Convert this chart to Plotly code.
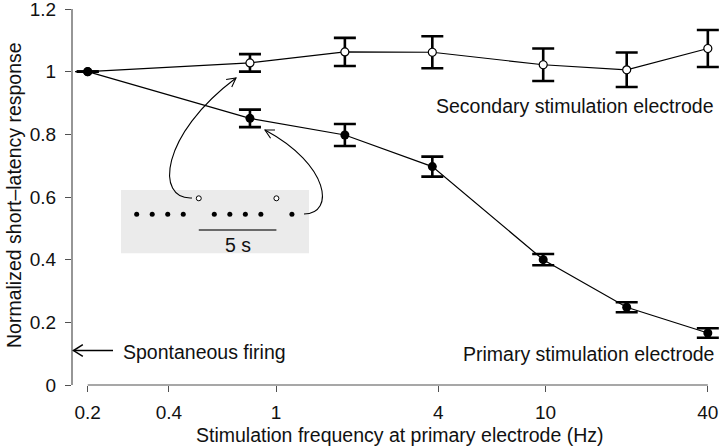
import math
import plotly.graph_objects as go

# ---------------- data ----------------
freq_hz = [0.2, 0.8, 1.8, 3.8, 9.8, 20, 40]
secondary_resp = [1.0, 1.028, 1.063, 1.062, 1.022, 1.006, 1.074]
secondary_err = [0.0, 0.028, 0.045, 0.051, 0.052, 0.055, 0.059]
primary_resp = [1.0, 0.851, 0.798, 0.697, 0.400, 0.248, 0.166]
primary_err = [0.0, 0.028, 0.035, 0.032, 0.018, 0.016, 0.015]
x_tick_vals = [0.2, 0.4, 1, 4, 10, 40]
x_tick_text = ["0.2", "0.4", "1", "4", "10", "40"]
y_tick_vals = [0, 0.2, 0.4, 0.6, 0.8, 1.0, 1.2]
y_tick_text = ["0", "0.2", "0.4", "0.6", "0.8", "1", "1.2"]
spontaneous_level = 0.11

# inset pulse train (seconds)
inset_primary_t = [0, 1, 2, 3, 5, 6, 7, 8, 10]
inset_secondary_t = [4, 9]
scale_bar_t = [4, 9]
scale_bar_label = "5 s"

# ---------------- geometry (pixel space) ----------------
W, H = 720, 447
L, R, T, B = 72, 720, 9, 385  # plot area in pixels
px_per_dec = 269.5
x0_px = 87.7  # pixel of 0.2
xr0 = math.log10(0.2) - (x0_px - L) / px_per_dec
xr1 = math.log10(0.2) + (R - x0_px) / px_per_dec


def px(x):
    return (x - L) / (R - L)


def py(y):
    return (B - y) / (B - T)


def xlog_paper(v):
    return (math.log10(v) - xr0) / (xr1 - xr0)


def yval_px(v):
    return B - v * (B - T) / 1.2


FONT = "Liberation Sans, Arial, Helvetica, sans-serif"
FS = 19.5
TFS = 19
AX = "#505050"

fig = go.Figure()

fig.add_trace(go.Scatter(
    x=freq_hz, y=secondary_resp, mode="lines+markers",
    line=dict(color="black", width=1.2),
    marker=dict(symbol="circle", size=8, color="white", line=dict(color="black", width=1.2)),
    error_y=dict(type="data", array=secondary_err, visible=True, color="black", thickness=2.6, width=11),
    cliponaxis=False, showlegend=False, xaxis="x", yaxis="y",
))
fig.add_trace(go.Scatter(
    x=freq_hz, y=primary_resp, mode="lines+markers",
    line=dict(color="black", width=1.2),
    marker=dict(symbol="circle", size=9, color="black"),
    error_y=dict(type="data", array=primary_err, visible=True, color="black", thickness=2.6, width=11),
    cliponaxis=False, showlegend=False, xaxis="x", yaxis="y",
))

# inset traces
inset_row_open, inset_row_filled, inset_row_bar = 8.3, 24.3, 40.0
fig.add_trace(go.Scatter(
    x=inset_primary_t, y=[inset_row_filled] * len(inset_primary_t), mode="markers",
    marker=dict(size=5, color="black"), xaxis="x2", yaxis="y2", showlegend=False, cliponaxis=False,
))
fig.add_trace(go.Scatter(
    x=inset_secondary_t, y=[inset_row_open] * len(inset_secondary_t), mode="markers",
    marker=dict(size=5, color="white", line=dict(color="black", width=1)),
    xaxis="x2", yaxis="y2", showlegend=False, cliponaxis=False,
))
fig.add_trace(go.Scatter(
    x=scale_bar_t, y=[inset_row_bar] * 2, mode="lines",
    line=dict(color="#6a6a6a", width=2), xaxis="x2", yaxis="y2", showlegend=False, cliponaxis=False,
))

shapes = []
# inset background
shapes.append(dict(type="rect", xref="paper", yref="paper", x0=px(121), x1=px(309), y0=py(253.3), y1=py(190),
                   fillcolor="#ebebeb", line=dict(width=0), layer="below"))
# axis lines
shapes.append(dict(type="line", xref="paper", yref="paper", x0=0, x1=0, y0=0, y1=1,
                   line=dict(color=AX, width=1.2)))
shapes.append(dict(type="line", xref="paper", yref="paper",
                   x0=xlog_paper(x_tick_vals[0]), x1=xlog_paper(x_tick_vals[-1]), y0=0, y1=0,
                   line=dict(color=AX, width=1.2)))
# short baseline at y=1 near the start
shapes.append(dict(type="line", xref="paper", yref="paper",
                   x0=px(75), x1=xlog_paper(freq_hz[0]), y0=py(yval_px(1.0)), y1=py(yval_px(1.0)),
                   line=dict(color="black", width=1.2)))


def vhead(tip, frm, length=9, ang=28):
    dx, dy = tip[0] - frm[0], tip[1] - frm[1]
    n = math.hypot(dx, dy)
    ux, uy = dx / n, dy / n
    pts = []
    for s in (1, -1):
        a = math.radians(ang * s)
        rx = ux * math.cos(a) - uy * math.sin(a)
        ry = ux * math.sin(a) + uy * math.cos(a)
        pts.append((tip[0] - rx * length, tip[1] - ry * length))
    return "M{},{} L{},{} L{},{}".format(px(pts[0][0]), py(pts[0][1]), px(tip[0]), py(tip[1]),
                                          px(pts[1][0]), py(pts[1][1]))


def cubic(p0, p1, p2, p3):
    return "M{},{} C{},{} {},{} {},{}".format(px(p0[0]), py(p0[1]), px(p1[0]), py(p1[1]),
                                              px(p2[0]), py(p2[1]), px(p3[0]), py(p3[1]))


line_style = dict(color="black", width=1.1)
# curved arrow to secondary point
a1 = [(192, 198), (155, 200), (160, 135), (236, 78)]
shapes.append(dict(type="path", xref="paper", yref="paper", path=cubic(*a1), line=line_style))
shapes.append(dict(type="path", xref="paper", yref="paper", path=vhead(a1[3], a1[2], 10), line=line_style))
# curved arrow to primary point
a2 = [(304, 214), (335, 214), (330, 165), (265, 130)]
shapes.append(dict(type="path", xref="paper", yref="paper", path=cubic(*a2), line=line_style))
shapes.append(dict(type="path", xref="paper", yref="paper", path=vhead(a2[3], a2[2], 10), line=line_style))
# spontaneous arrow
sp_y = yval_px(spontaneous_level)
shapes.append(dict(type="line", xref="paper", yref="paper", x0=px(113), x1=px(73.5),
                   y0=py(sp_y), y1=py(sp_y), line=dict(color="black", width=1.5)))
shapes.append(dict(type="path", xref="paper", yref="paper", path=vhead((73.5, sp_y), (113, sp_y), 11, 32),
                   line=dict(color="black", width=1.5)))

annotations = [
    dict(text="Secondary stimulation electrode", xref="paper", yref="paper", x=px(716), y=py(106),
         xanchor="right", yanchor="middle", showarrow=False),
    dict(text="Primary stimulation electrode", xref="paper", yref="paper", x=px(716), y=py(354),
         xanchor="right", yanchor="middle", showarrow=False),
    dict(text="Spontaneous firing", xref="paper", yref="paper", x=px(121), y=py(sp_y + 1),
         xanchor="left", yanchor="middle", showarrow=False),
    dict(text=scale_bar_label, xref="paper", yref="paper", x=px(238), y=py(245),
         xanchor="center", yanchor="middle", showarrow=False),
    dict(text="Stimulation frequency at primary electrode (Hz)", xref="paper", yref="paper",
         x=px(400), y=py(435), xanchor="center", yanchor="middle", showarrow=False),
    dict(text="Normalized short–latency response", xref="paper", yref="paper",
         x=px(14), y=py(195), xanchor="center", yanchor="middle", textangle=-90, showarrow=False,
         borderpad=0),
]

fig.update_layout(
    width=W, height=H,
    margin=dict(l=L, r=W - R, t=T, b=H - B, pad=0, autoexpand=False),
    paper_bgcolor="white", plot_bgcolor="rgba(0,0,0,0)",
    font=dict(family=FONT, size=FS, color="#111111"),
    xaxis=dict(type="log", range=[xr0, xr1], tickvals=x_tick_vals, ticktext=x_tick_text,
               ticks="outside", ticklen=6, tickwidth=1.2, tickcolor=AX, showline=False,
               showgrid=False, zeroline=False, ticklabelstandoff=4, ticklabeloverflow="allow",
               automargin=False,
               tickfont=dict(family=FONT, size=TFS, color="#111111")),
    yaxis=dict(range=[0, 1.2], tickvals=y_tick_vals, ticktext=y_tick_text,
               ticks="outside", ticklen=6, tickwidth=1.2, tickcolor=AX, showline=False,
               showgrid=False, zeroline=False, ticklabelstandoff=5, ticklabeloverflow="allow",
               automargin=False,
               tickfont=dict(family=FONT, size=TFS, color="#111111")),
    xaxis2=dict(domain=[px(121), px(309)], range=[-1.01, 11.1], visible=False, anchor="y2",
                automargin=False),
    yaxis2=dict(domain=[py(253.3), py(190)], range=[63.3, 0], visible=False, anchor="x2",
                automargin=False),
    shapes=shapes,
    annotations=annotations,
)

fig.write_html("out.html", config={"displayModeBar": False},
               post_script="document.body.style.margin='0px';document.body.style.overflow='hidden';")
